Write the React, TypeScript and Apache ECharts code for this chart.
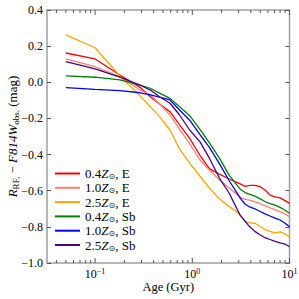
import React, { useEffect, useRef } from "react";
import * as echarts from "echarts";

// Ages in Gyr (shared sampling for all models)
const ages = [0.05, 0.1, 0.18, 0.29, 0.37, 0.46, 0.59, 0.74, 0.94, 1.2, 1.5, 1.9, 2.4, 3.1, 3.5, 3.9, 4.4, 5.0, 5.6, 6.3, 7.1, 8.0, 9.0, 10];

const red04E = [0.162, 0.129, 0.04, -0.028, -0.08, -0.12, -0.163, -0.236, -0.31, -0.405, -0.478, -0.508, -0.535, -0.562, -0.576, -0.57, -0.57, -0.578, -0.596, -0.624, -0.634, -0.64, -0.655, -0.67];
const salmon10E = [0.129, 0.086, 0.031, -0.043, -0.07, -0.12, -0.181, -0.26, -0.34, -0.43, -0.485, -0.54, -0.585, -0.635, -0.648, -0.652, -0.662, -0.672, -0.683, -0.695, -0.705, -0.716, -0.728, -0.744];
const orange25E = [0.262, 0.191, 0.035, -0.075, -0.135, -0.19, -0.264, -0.37, -0.448, -0.52, -0.585, -0.645, -0.688, -0.732, -0.77, -0.778, -0.78, -0.798, -0.815, -0.825, -0.833, -0.828, -0.84, -0.856];
const green04Sb = [0.035, 0.028, 0.013, -0.015, -0.033, -0.06, -0.089, -0.135, -0.185, -0.26, -0.335, -0.42, -0.515, -0.59, -0.61, -0.62, -0.63, -0.645, -0.66, -0.672, -0.68, -0.692, -0.708, -0.725];
const blue10Sb = [-0.03, -0.039, -0.046, -0.058, -0.07, -0.082, -0.098, -0.153, -0.21, -0.29, -0.36, -0.45, -0.545, -0.64, -0.675, -0.69, -0.7, -0.715, -0.728, -0.74, -0.752, -0.762, -0.78, -0.8];
const indigo25Sb = [0.114, 0.074, 0.028, -0.015, -0.043, -0.08, -0.116, -0.181, -0.264, -0.33, -0.42, -0.53, -0.614, -0.735, -0.77, -0.8, -0.825, -0.845, -0.86, -0.87, -0.88, -0.888, -0.895, -0.91];

const seriesNames = ["0.4Z⊙, E", "1.0Z⊙, E", "2.5Z⊙, E", "0.4Z⊙, Sb", "1.0Z⊙, Sb", "2.5Z⊙, Sb"];
const seriesValues = [red04E, salmon10E, orange25E, green04Sb, blue10Sb, indigo25Sb];
const seriesColors = ["#ff0000", "#fa8072", "#ffa500", "#008000", "#0000ff", "#4b0082"];

const xMajorTicks = [0.1, 1, 10];
const xMinorTicks = [0.04, 0.05, 0.06, 0.07, 0.08, 0.09, 0.2, 0.3, 0.4, 0.5, 0.6, 0.7, 0.8, 0.9, 2, 3, 4, 5, 6, 7, 8, 9];

const X_MIN = 0.032;
const X_MAX = 10;
const Y_MIN = -1.0;
const Y_MAX = 0.4;
const Y_STEP = 0.2;

const FONT = "Liberation Serif";

export default function App() {
  const ref = useRef<HTMLDivElement>(null);

  useEffect(() => {
    const chart = echarts.init(ref.current as HTMLDivElement, null, { renderer: "svg" });

    const tickData = [
      ...xMajorTicks.map((v) => [v, Y_MIN, 1]),
      ...xMinorTicks.map((v) => [v, Y_MIN, 0]),
    ];

    const option: any = {
      animation: false,
      backgroundColor: "#ffffff",
      grid: {
        left: 47,
        right: 9.5,
        top: 10,
        bottom: 36,
        show: true,
        borderColor: "#a0a0a0",
        borderWidth: 1.5,
        backgroundColor: "transparent",
        containLabel: false,
        outerBoundsMode: "none",
      },
      legend: {
        data: seriesNames,
        orient: "vertical",
        left: 55,
        top: 167,
        padding: 0,
        itemWidth: 25,
        itemHeight: 2,
        itemGap: 0.8,
        icon: "rect",
        formatter: (name: string) => {
          const parts = name.split("Z⊙");
          return `{n|${parts[0]}}{i|Z}{s|⊙}{n|${parts[1]}}`;
        },
        textStyle: {
          fontFamily: FONT,
          fontSize: 13,
          color: "#000",
          rich: {
            n: { fontFamily: FONT, fontSize: 13, lineHeight: 14, color: "#000" },
            i: { fontFamily: FONT, fontSize: 13, lineHeight: 14, fontStyle: "italic", color: "#000" },
            s: { fontFamily: "DejaVu Sans", fontSize: 8, lineHeight: 8, verticalAlign: "bottom", color: "#000" },
          },
        },
      },
      xAxis: [
        {
          type: "log",
          logBase: 10,
          min: X_MIN,
          max: X_MAX,
          axisLine: { show: false },
          axisTick: { show: false },
          splitLine: { show: false },
          axisLabel: {
            margin: 4,
            showMinLabel: false,
            formatter: (v: number) => {
              const l = Math.log10(v);
              const r = Math.round(l);
              if (Math.abs(l - r) > 1e-6) return "";
              const exp = r < 0 ? "−" + Math.abs(r) : String(r);
              return `{b|10}{p|${exp}}`;
            },
            rich: {
              b: { fontFamily: FONT, fontSize: 12, lineHeight: 14, color: "#000" },
              p: { fontFamily: FONT, fontSize: 8, lineHeight: 8, verticalAlign: "top", color: "#000" },
            },
          },
          name: "Age (Gyr)",
          nameLocation: "middle",
          nameGap: 17,
          nameMoveOverlap: false,
          nameTextStyle: { fontFamily: FONT, fontSize: 12.5, color: "#000" },
        },
      ],
      yAxis: [
        {
          type: "value",
          min: Y_MIN,
          max: Y_MAX,
          interval: Y_STEP,
          axisLine: { show: false },
          axisTick: { show: true, inside: true, length: 4, lineStyle: { color: "#555", width: 1 } },
          splitLine: { show: false },
          axisLabel: {
            margin: 4,
            fontFamily: FONT,
            fontSize: 12,
            color: "#000",
            formatter: (v: number) => v.toFixed(1).replace("-", "−"),
          },
          name: "{i|R}{s|RF,}{n| − }{i|F814W}{s|obs.}{n| (mag)}",
          nameLocation: "middle",
          nameRotate: 90,
          nameGap: 27,
          nameMoveOverlap: false,
          nameTextStyle: {
            fontFamily: FONT,
            fontSize: 13,
            color: "#000",
            rich: {
              n: { fontFamily: FONT, fontSize: 13, lineHeight: 15, color: "#000" },
              i: { fontFamily: FONT, fontSize: 13, lineHeight: 15, fontStyle: "italic", color: "#000" },
              s: { fontFamily: FONT, fontSize: 9, lineHeight: 9, verticalAlign: "bottom", color: "#000" },
            },
          },
        },
        {
          type: "value",
          position: "right",
          min: Y_MIN,
          max: Y_MAX,
          interval: Y_STEP,
          axisLine: { show: false },
          axisTick: { show: true, inside: true, length: 4, lineStyle: { color: "#555", width: 1 } },
          splitLine: { show: false },
          axisLabel: { show: false },
        },
      ],
      series: [
        ...seriesNames.map((name, k) => ({
          name,
          type: "line",
          xAxisIndex: 0,
          yAxisIndex: 0,
          data: ages.map((a, i) => [a, seriesValues[k][i]]),
          showSymbol: false,
          symbol: "none",
          color: seriesColors[k],
          lineStyle: { color: seriesColors[k], width: 1.3 },
          emphasis: { disabled: true },
        })),
        {
          type: "custom",
          name: "xticks",
          xAxisIndex: 0,
          yAxisIndex: 0,
          silent: true,
          clip: false,
          encode: { x: 0, y: 1 },
          data: tickData,
          renderItem: (params: any, api: any) => {
            const v = api.value(0);
            const major = api.value(2) === 1;
            const b = api.coord([v, Y_MIN]);
            const t = api.coord([v, Y_MAX]);
            const len = major ? 5 : 3;
            const style = { stroke: "#555", lineWidth: 1 };
            return {
              type: "group",
              children: [
                { type: "line", shape: { x1: b[0], y1: b[1], x2: b[0], y2: b[1] - len }, style },
                { type: "line", shape: { x1: t[0], y1: t[1], x2: t[0], y2: t[1] + len }, style },
              ],
            };
          },
        },
      ],
    };

    chart.setOption(option);
    return () => chart.dispose();
  }, []);

  return (
    <div
      ref={ref}
      style={{ position: "fixed", left: 0, top: 0, width: 299, height: 299 }}
    />
  );
}
